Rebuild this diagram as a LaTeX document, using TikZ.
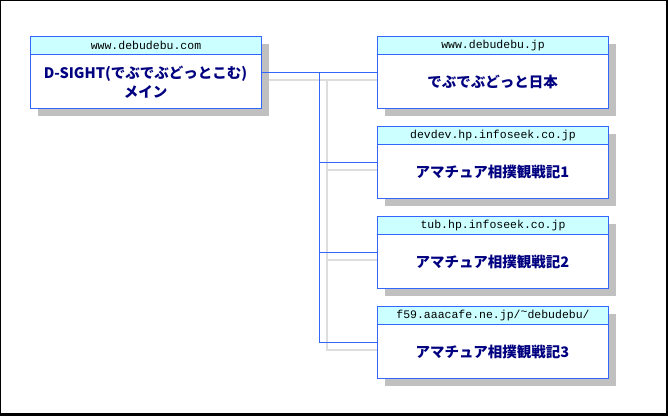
\documentclass[tikz,border=0pt]{standalone}
\usepackage{fontspec}
\newfontfamily\jp{Noto Sans CJK JP}
\newfontfamily\mono{Liberation Mono}
\definecolor{bblue}{HTML}{3366FF}
\definecolor{hdr}{HTML}{CCFFFF}
\definecolor{navy}{HTML}{000080}
\definecolor{shd}{HTML}{C0C0C0}
\definecolor{lgray}{HTML}{DDDDDD}
\tikzset{
  boxbody/.style={draw=bblue, line width=1pt, fill=white, minimum width=231pt, minimum height=72pt, inner sep=0pt, anchor=north west},
  boxhead/.style={draw=bblue, line width=1pt, fill=hdr, minimum width=231pt, minimum height=18pt, inner sep=0pt, anchor=north west, font=\mono\fontsize{11.5}{12}\selectfont},
  boxshadow/.style={fill=shd, minimum width=231pt, minimum height=72pt, inner sep=0pt, anchor=north west},
  boxtext/.style={text=navy, font=\jp\bfseries\fontsize{14.5}{19}\selectfont, align=center},
  link/.style={draw=bblue, line width=1pt},
  linkshadow/.style={draw=lgray, line width=2pt},
}
\begin{document}
\begin{tikzpicture}[x=1pt,y=-1pt]
\useasboundingbox (0,0) rectangle (668,415);
\fill[white] (0,0) rectangle (668,415);
% connector shadows
\coordinate (gs0) at (261,80);
\coordinate (gt) at (327,80);
\coordinate (gb) at (327,350);
\coordinate (g1) at (380,80);
\coordinate (g2) at (380,170);
\coordinate (g3) at (380,260);
\coordinate (g4) at (380,350);
\coordinate (g2j) at (327,170);
\coordinate (g3j) at (327,260);
\draw[linkshadow] (gs0) -- (g1);
\draw[linkshadow] (gt) -- (gb) -- (g4);
\draw[linkshadow] (g2j) -- (g2);
\draw[linkshadow] (g3j) -- (g3);
% shadows
\node[boxshadow] (sm) at (38,44) {};
\node[boxshadow] (s1) at (385,44) {};
\node[boxshadow] (s2) at (385,134) {};
\node[boxshadow] (s3) at (385,224) {};
\node[boxshadow] (s4) at (385,314) {};
% boxes
\node[boxbody] (m) at (30,36) {};
\node[boxhead] (mh) at (30,36) {www.debudebu.com};
\node[boxtext] (mt) at (145.5,82) {D-SIGHT(でぶでぶどっとこむ)\\メイン};
\node[boxbody] (b1) at (377,36) {};
\node[boxhead] (b1h) at (377,36) {www.debudebu.jp};
\node[boxtext] (b1t) at (492.5,82) {でぶでぶどっと日本};
\node[boxbody] (b2) at (377,126) {};
\node[boxhead] (b2h) at (377,126) {devdev.hp.infoseek.co.jp};
\node[boxtext] (b2t) at (492.5,172) {アマチュア相撲観戦記1};
\node[boxbody] (b3) at (377,216) {};
\node[boxhead] (b3h) at (377,216) {tub.hp.infoseek.co.jp};
\node[boxtext] (b3t) at (492.5,262) {アマチュア相撲観戦記2};
\node[boxbody] (b4) at (377,306) {};
\node[boxhead] (b4h) at (377,306) {f59.aaacafe.ne.jp/\raisebox{0.25em}{\textasciitilde}debudebu/};
\node[boxtext] (b4t) at (492.5,352) {アマチュア相撲観戦記3};
% connectors
\coordinate (j1) at (319.5,72);
\coordinate (j2) at (319.5,162);
\coordinate (j3) at (319.5,252);
\coordinate (j4) at (319.5,342);
\draw[link] (m.east |- j1) -- (b1.west |- j1);
\draw[link] (j1) -- (j4) -- (b4.west |- j4);
\draw[link] (j2) -- (b2.west |- j2);
\draw[link] (j3) -- (b3.west |- j3);
% frame
\draw[black, line width=1pt] (0.5,0.5) rectangle (666,413.5);
\draw[black, line width=2pt] (667,0) -- (667,414.5) -- (0,414.5);
\end{tikzpicture}
\end{document}
